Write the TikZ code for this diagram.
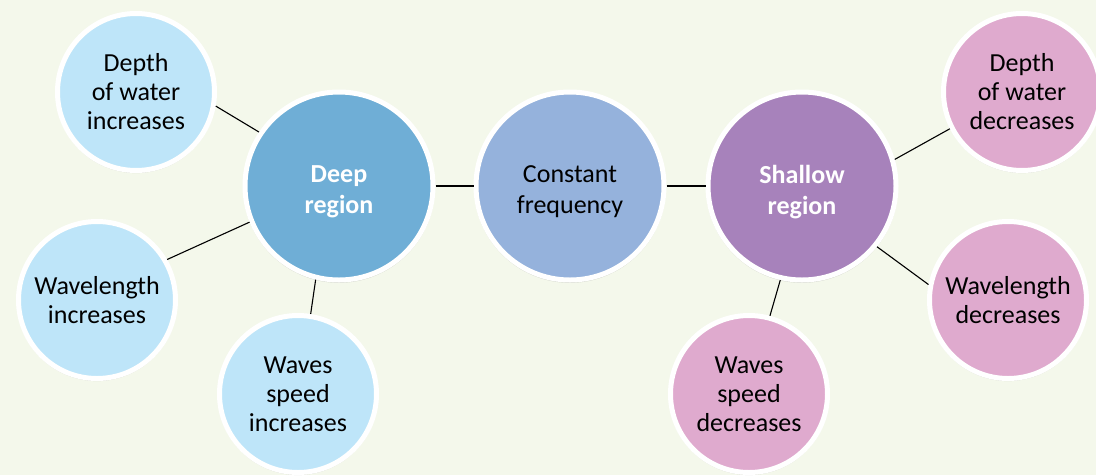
\documentclass[tikz,border=0pt]{standalone}
\usepackage{fontspec}
\setmainfont{Carlito}
\usetikzlibrary{shadows}
\definecolor{bgcol}{HTML}{F4F8EB}
\definecolor{lightblue}{HTML}{BEE5F9}
\definecolor{deepblue}{HTML}{6FAED6}
\definecolor{midblue}{HTML}{95B2DC}
\definecolor{violet}{HTML}{A782BB}
\definecolor{pink}{HTML}{DFAACE}
\tikzset{
  x=1pt, y=-1pt,
  bubble/.style={circle, draw=white, line width=5pt, align=center, inner sep=0pt,
    font=\fontsize{26}{29}\selectfont, text=black,
    drop shadow={shadow xshift=0pt, shadow yshift=-1pt, shadow scale=1.02, opacity=0.12, fill=black}},
  small/.style={bubble, minimum size=157pt},
  big/.style={bubble, minimum size=188pt},
  bigtext/.style={align=center, yshift=-6pt, font=\fontsize{26}{31}\selectfont},
  hubtext/.style={bigtext, text=white, font=\fontsize{26}{31}\selectfont\bfseries},
  link/.style={draw=black, line width=1.1pt}
}
\begin{document}
\begin{tikzpicture}
  \fill[bgcol] (0,0) rectangle (1096,475);
  \useasboundingbox (0,0) rectangle (1096,475);

  % central chain
  \node[big, fill=deepblue, label={[hubtext]center:Deep\\region}] (deep) at (339,186) {};
  \node[big, fill=midblue, label={[bigtext]center:Constant\\frequency}] (const) at (570,186) {};
  \node[big, fill=violet, label={[hubtext]center:Shallow\\region}] (shallow) at (802,186) {};

  % deep-water effects
  \node[small, fill=lightblue] (depthinc) at (136,92) {Depth\\of water\\increases};
  \node[small, fill=lightblue] (waveinc) at (97,300) {Wavelength\\increases};
  \node[small, fill=lightblue] (speedinc) at (298,394) {Waves\\speed\\increases};

  % shallow-water effects
  \node[small, fill=pink] (depthdec) at (1022,92) {Depth\\of water\\decreases};
  \node[small, fill=pink] (wavedec) at (1008,300) {Wavelength\\decreases};
  \node[small, fill=pink] (speeddec) at (749,394) {Waves\\speed\\decreases};

  % connectors
  \draw[link] (deep.east) -- (const.west);
  \draw[link] (const.east) -- (shallow.west);
  \draw[link] (depthinc.-10.5) -- (deep.146);
  \draw[link] (waveinc.30) -- (deep.202);
  \draw[link] (speedinc.81) -- (deep.256);
  \draw[link] (shallow.16) -- (depthdec.207);
  \draw[link] (shallow.-39) -- (wavedec.169);
  \draw[link] (shallow.-103) -- (speeddec.75);
\end{tikzpicture}
\end{document}
